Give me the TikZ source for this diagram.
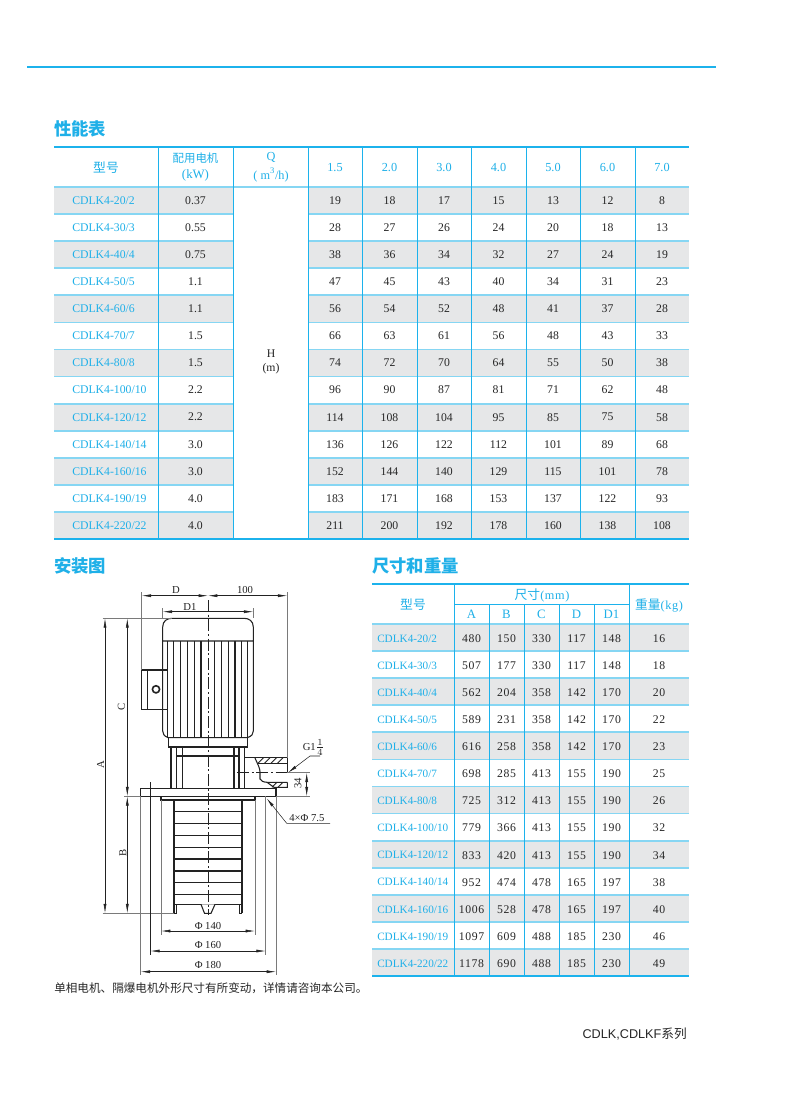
\documentclass[tikz,border=0pt]{standalone}
\usepackage{fontspec}
\usepackage{amsmath}
\setmainfont{Liberation Serif}
\newfontfamily\cjk{Noto Sans CJK SC}
\newfontfamily\spaced[LetterSpace=5]{Liberation Serif}
\newfontfamily\arial{Liberation Sans}
\usetikzlibrary{arrows.meta}
\definecolor{cyantext}{HTML}{1FB0E8}
\definecolor{cyanline}{HTML}{1CB2EC}
\definecolor{cyanrow}{HTML}{86D6F3}
\definecolor{rowgrey}{HTML}{E6E7E8}
\definecolor{inkline}{HTML}{222222}
\tikzset{
  cell/.style={inner sep=0pt,font=\fontsize{8.8}{10}\selectfont,text=black!85},
  spcell/.style={inner sep=0pt,font=\fontsize{8.8}{10}\selectfont\spaced,text=black!85},
  modelcell/.style={inner sep=0pt,anchor=west,font=\fontsize{8.8}{10}\selectfont,text=cyantext},
  headcell/.style={inner sep=0pt,font=\fontsize{9.2}{10}\selectfont,text=cyantext},
  cjkhead/.style={inner sep=0pt,font=\fontsize{9.6}{10}\selectfont\cjk,text=cyantext},
  sectitle/.style={inner sep=0pt,anchor=west,font=\fontsize{13}{14}\selectfont\cjk\bfseries,text=cyantext},
  dimtext/.style={inner sep=0pt,font=\fontsize{8}{9}\selectfont,text=inkline},
  outline/.style={draw=inkline,line width=0.8pt},
  thinline/.style={draw=inkline!60,line width=0.35pt},
  dimline/.style={draw=inkline,line width=0.4pt,{Latex[length=7pt,width=2.2pt]}-{Latex[length=7pt,width=2.2pt]}},
  axisline/.style={draw=inkline,line width=0.6pt,dash pattern=on 9pt off 2pt on 1.5pt off 2pt},
  rowrule/.style={draw=cyanrow,line width=1.3pt},
  colrule/.style={draw=cyanline,line width=0.7pt},
  toprule/.style={draw=cyanline,line width=1.3pt},
}
\begin{document}
\begin{tikzpicture}[x=0.75pt,y=-0.75pt]
  \useasboundingbox (0,0) rectangle (790,1117);
  \fill[white] (0,0) rectangle (790,1117);
  \draw[draw=cyanline,line width=0.8pt] (27,67) -- (716,67);

  \node[sectitle] (perftitle) at (54,129) {性能表};
  \node[sectitle] (setuptitle) at (54,566) {安装图};
  \node[sectitle] (sizetitle) at (372,566) {尺寸和重量};

  % performance table
  \foreach \m/\p/\vals [count=\r] in {
    {CDLK4-20/2}/0.37/{19,18,17,15,13,12,8},
    {CDLK4-30/3}/0.55/{28,27,26,24,20,18,13},
    {CDLK4-40/4}/0.75/{38,36,34,32,27,24,19},
    {CDLK4-50/5}/1.1/{47,45,43,40,34,31,23},
    {CDLK4-60/6}/1.1/{56,54,52,48,41,37,28},
    {CDLK4-70/7}/1.5/{66,63,61,56,48,43,33},
    {CDLK4-80/8}/1.5/{74,72,70,64,55,50,38},
    {CDLK4-100/10}/2.2/{96,90,87,81,71,62,48},
    {CDLK4-120/12}/2.2/{114,108,104,95,85,75,58},
    {CDLK4-140/14}/3.0/{136,126,122,112,101,89,68},
    {CDLK4-160/16}/3.0/{152,144,140,129,115,101,78},
    {CDLK4-190/19}/4.0/{183,171,168,153,137,122,93},
    {CDLK4-220/22}/4.0/{211,200,192,178,160,138,108}} {
    \pgfmathsetmacro\ry{187+27.08*(\r-0.5)}
    \ifodd\r
      \fill[rowgrey] (54,\ry-13.5) rectangle (233,\ry+13.5);
      \fill[rowgrey] (308,\ry-13.5) rectangle (689,\ry+13.5);
    \fi
    \node[modelcell] (pm\r) at (72,\ry) {\m};
    \node[cell] (pp\r) at (195.5,\ry) {\p};
    \foreach \v [count=\k] in \vals {
      \pgfmathsetmacro\cx{335+54.5*(\k-1)}
      \node[cell] (pv\r-\k) at (\cx,\ry) {\v};
    }
  }
  \foreach \r in {1,...,12} {
    \pgfmathsetmacro\ry{187+27.08*\r}
    \draw[rowrule] (54,\ry) -- (233,\ry);
    \draw[rowrule] (308,\ry) -- (689,\ry);
  }
  \draw[rowrule] (54,187) -- (689,187);
  \foreach \cx in {158,233,308,362.5,417,471.5,526,580.5,635}
    \draw[colrule] (\cx,147) -- (\cx,539);
  \draw[toprule] (54,147) -- (689,147);
  \draw[toprule] (54,539) -- (689,539);

  \node[cjkhead] (phmodel) at (106,168) {型号};
  \node[cjkhead,font=\fontsize{8.6}{10}\selectfont\cjk] (phmotor) at (195.5,158) {配用电机};
  \node[headcell,font=\fontsize{9.6}{10}\selectfont] (phkw) at (195.5,175) {(kW)};
  \node[headcell] (phq) at (271,157.5) {Q};
  \node[headcell] (phflow) at (271,175) {( m\textsuperscript{3}/h)};
  \foreach \t [count=\k] in {1.5,2.0,3.0,4.0,5.0,6.0,7.0} {
    \pgfmathsetmacro\cx{335+54.5*(\k-1)}
    \node[headcell] (phv\k) at (\cx,168) {\t};
  }
  \node[cell] (phh) at (271,354) {H};
  \node[cell] (phm) at (271,369) {(m)};

  % size and weight table
  \foreach \m/\a/\b/\c/\d/\e/\w [count=\r] in {
    {CDLK4-20/2}/480/150/330/117/148/16,
    {CDLK4-30/3}/507/177/330/117/148/18,
    {CDLK4-40/4}/562/204/358/142/170/20,
    {CDLK4-50/5}/589/231/358/142/170/22,
    {CDLK4-60/6}/616/258/358/142/170/23,
    {CDLK4-70/7}/698/285/413/155/190/25,
    {CDLK4-80/8}/725/312/413/155/190/26,
    {CDLK4-100/10}/779/366/413/155/190/32,
    {CDLK4-120/12}/833/420/413/155/190/34,
    {CDLK4-140/14}/952/474/478/165/197/38,
    {CDLK4-160/16}/1006/528/478/165/197/40,
    {CDLK4-190/19}/1097/609/488/185/230/46,
    {CDLK4-220/22}/1178/690/488/185/230/49} {
    \pgfmathsetmacro\ry{624+27.08*(\r-0.5)}
    \ifodd\r
      \fill[rowgrey] (372,\ry-13.5) rectangle (689,\ry+13.5);
    \fi
    \node[modelcell,font=\fontsize{8.4}{10}\selectfont] (sm\r) at (377,\ry+1) {\m};
    \node[spcell] (sa\r) at (471.5,\ry+1) {\a};
    \node[spcell] (sb\r) at (506.5,\ry+1) {\b};
    \node[spcell] (sc\r) at (541.5,\ry+1) {\c};
    \node[spcell] (sd\r) at (576.5,\ry+1) {\d};
    \node[spcell] (se\r) at (611.5,\ry+1) {\e};
    \node[spcell] (sw\r) at (659,\ry+1) {\w};
  }
  \foreach \r in {0,...,12} {
    \pgfmathsetmacro\ry{624+27.08*\r}
    \draw[rowrule] (372,\ry) -- (689,\ry);
  }
  \draw[colrule] (454,584) -- (454,976);
  \draw[colrule] (629,584) -- (629,976);
  \foreach \cx in {489,524,559,594}
    \draw[colrule] (\cx,604) -- (\cx,976);
  \draw[colrule] (454,604) -- (629,604);
  \draw[toprule] (372,584) -- (689,584);
  \draw[toprule] (372,976) -- (689,976);

  \node[cjkhead] (shmodel) at (413,605) {型号};
  \node[headcell] (shsize) at (542,595) {{\fontsize{9.6}{10}\selectfont\cjk 尺寸}{\spaced (mm)}};
  \node[headcell] (shweight) at (659,605) {{\fontsize{9.6}{10}\selectfont\cjk 重量}{\spaced (kg)}};
  \foreach \t/\cx in {A/471.5,B/506.5,C/541.5,D/576.5,D1/611.5}
    \node[headcell,font=\fontsize{9.6}{10}\selectfont] (sh\t) at (\cx,614.5) {\t};

  % motor
  \draw[outline] (162.7,641) -- (162.7,627) .. controls (162.7,621) and (167,618.3) .. (172,618.3)
    -- (244,618.3) .. controls (249,618.3) and (253.3,621) .. (253.3,627) -- (253.3,641) -- cycle;
  \draw[outline] (162.7,641) -- (162.7,731) .. controls (162.7,734) and (164,736) .. (168.3,737.7)
    -- (247.3,737.7) .. controls (252,736) and (253.3,734) .. (253.3,731) -- (253.3,641);
  \foreach \fx in {167.3,173.3,180.7,187.7,194.3,201,214.3,221.3,228.3,235,241.7,247.3}
    \draw[outline] (\fx,641) -- (\fx,737.7);
  \draw[outline] (167.3,670) -- (141.7,670) -- (141.7,709.3) -- (167.3,709.3);
  \draw[outline] (147.7,670) -- (147.7,709.3);
  \draw[outline,line width=1.2pt] (156,689.3) circle[radius=3.6];
  \draw[outline] (168.3,737.7) rectangle (247.3,747);
  \foreach \fx in {171,176.7,182.7,234,239,244.7}
    \draw[outline] (\fx,747) -- (\fx,788.3);
  \draw[outline] (176.7,756) -- (239,756);

  % flange and pump body
  \draw[outline] (140.7,788.3) rectangle (276,796.3);
  \draw[outline] (161,796.3) rectangle (255,800);
  \draw[outline] (174,800) -- (174,913.3);
  \draw[outline] (242,800) -- (242,913.3);
  \foreach \fy in {811.7,823.3,835.7,847.3,859,871,882.7,894.3,904.3}
    \draw[outline] (174,\fy) -- (242,\fy);
  \draw[outline] (176.7,904.3) -- (176.7,913.3) (239.3,904.3) -- (239.3,913.3);
  \draw[outline] (174,913.3) -- (176.7,913.3) (239.3,913.3) -- (242,913.3);
  \draw[outline,fill=white] (201,904.3) -- (204.5,913.3) -- (211,913.3) -- (215,904.3);

  % outlet
  \draw[outline] (245,757.7) -- (287.3,757.7) -- (287.3,772);
  \draw[outline] (255,758) .. controls (258,765) and (260,768) .. (260,772) -- (260,779)
    .. controls (261,781) and (263,782) .. (267,782.3) -- (287.3,782.3);
  \draw[outline] (258,763.3) -- (287.3,763.3);
  \draw[outline] (267,782.3) -- (274,787.3) -- (287.3,787.3) -- (287.3,782.3);
  \foreach \hx in {258,264.5,271,277.5}
    \draw[draw=inkline,line width=0.6pt] (\hx,763.3) -- (\hx+5.5,757.7);
  \foreach \hx in {272,278}
    \draw[draw=inkline,line width=0.6pt] (\hx,787.3) -- (\hx+5,782.3);

  % axis lines
  \draw[axisline] (208,600) -- (208,915);
  \draw[axisline] (237,772.7) -- (305,772.7);

  % extension lines
  \draw[thinline] (141.7,592) -- (141.7,670);
  \draw[thinline] (287.3,592) -- (287.3,757.7);
  \draw[thinline] (162.7,608) -- (162.7,618.3) (253.3,608) -- (253.3,618.3);
  \draw[thinline] (102.7,618.3) -- (172,618.3);
  \draw[thinline] (102.7,913.3) -- (174,913.3);
  \draw[thinline] (124,796.3) -- (140.7,796.3);
  \draw[thinline] (276,796.3) -- (310,796.3);
  \draw[thinline] (287.3,772.7) -- (310,772.7);
  \draw[thinline] (161,800) -- (161,935);
  \draw[thinline] (255,800) -- (255,935);
  \draw[draw=inkline,line width=0.45pt] (150.3,782) -- (150.3,955);
  \draw[thinline] (265.7,796.3) -- (265.7,955);
  \draw[thinline] (140.7,796.3) -- (140.7,975);
  \draw[thinline] (276,796.3) -- (276,975);

  % dimensions
  \draw[dimline] (141.7,595.7) -- (208,595.7);
  \draw[dimline] (208,595.7) -- (287.3,595.7);
  \draw[dimline] (162.7,611.7) -- (253.3,611.7);
  \draw[dimline] (105,618.3) -- (105,913.3);
  \draw[dimline] (127.3,618.3) -- (127.3,796.3);
  \draw[dimline] (127.3,796.3) -- (127.3,913.3);
  \draw[dimline] (306.7,772.7) -- (306.7,796.3);
  \draw[dimline] (161,931) -- (255,931);
  \draw[dimline] (150.3,951) -- (265.7,951);
  \draw[dimline] (140.7,971.7) -- (276,971.7);
  \node[dimtext] (dimd) at (176,590) {D};
  \node[dimtext] (dimhund) at (245,590) {100};
  \node[dimtext] (dimdone) at (190,606.5) {D1};
  \node[dimtext,rotate=90] (dima) at (100.5,765) {A};
  \node[dimtext,rotate=90] (dimc) at (121.5,707) {C};
  \node[dimtext,rotate=90] (dimb) at (123,853) {B};
  \node[dimtext,rotate=90] (dimthree) at (298,783) {34};
  \node[dimtext] (dimp140) at (208,925.5) {Φ 140};
  \node[dimtext] (dimp160) at (208,945) {Φ 160};
  \node[dimtext] (dimp180) at (208,965) {Φ 180};

  % leaders
  \node[dimtext,anchor=south west] (gone) at (302.5,755.5) {G1{\fontsize{10}{12}\selectfont$\tfrac{1}{4}$}};
  \coordinate (gbend) at (310,756);
  \coordinate (gtip) at (288,772.7);
  \draw[draw=inkline,line width=0.4pt,-{Latex[length=7pt,width=2.2pt]}] (320,756) -- (gbend) -- (gtip);
  \node[dimtext,anchor=south west] (holes) at (289,822) {4×Φ 7.5};
  \coordinate (hbend) at (286.7,823.3);
  \coordinate (htip) at (266.7,798.3);
  \draw[draw=inkline,line width=0.4pt,-{Latex[length=7pt,width=2.2pt]}] (330,823.3) -- (hbend) -- (htip);

  \node[inner sep=0pt,anchor=west,font=\fontsize{8.7}{10}\selectfont\cjk,text=black!85] (footnote) at (54,988)
    {单相电机、隔爆电机外形尺寸有所变动，详情请咨询本公司。};
  \node[inner sep=0pt,anchor=east,font=\fontsize{9.5}{10}\selectfont\arial,text=black!85] (series) at (687,1034)
    {CDLK,CDLKF{\cjk 系列}};
\end{tikzpicture}
\end{document}
